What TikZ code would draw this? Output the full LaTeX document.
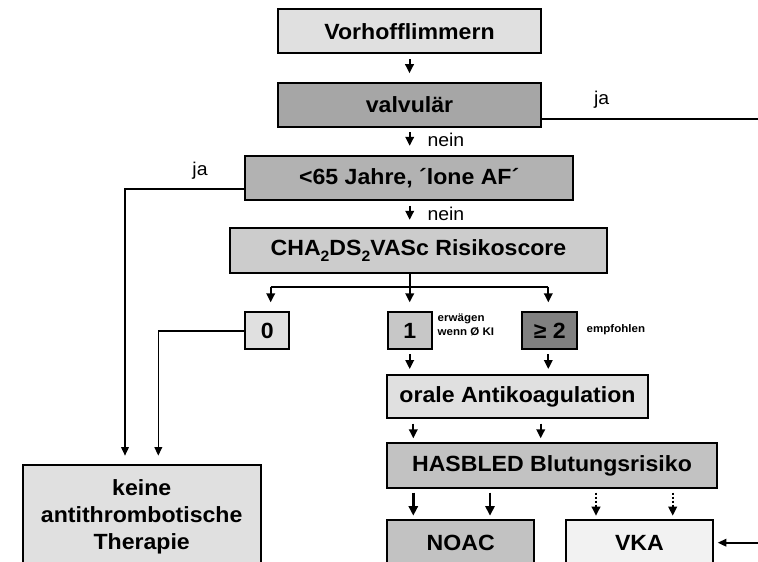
\documentclass[tikz,border=0pt]{standalone}
\usepackage{fontspec}
\setmainfont{Liberation Sans}[FakeStretch=1.05]
\usetikzlibrary{arrows.meta,calc}
\definecolor{gA}{gray}{0.88}
\definecolor{gB}{gray}{0.65}
\definecolor{gC}{gray}{0.70}
\definecolor{gD}{gray}{0.80}
\definecolor{gE}{gray}{0.78}
\definecolor{gF}{gray}{0.50}
\definecolor{gG}{gray}{0.76}
\definecolor{gH}{gray}{0.95}
\tikzset{
  box/.style={draw=black, line width=2pt, inner sep=0pt, align=center,
    font=\bfseries\fontsize{22}{26.7}\selectfont},
  lbl/.style={inner sep=0pt, font=\fontsize{18.5}{20}\selectfont},
  smalllbl/.style={inner sep=0pt, anchor=west, align=left,
    font=\bfseries\fontsize{11}{13.4}\selectfont},
  arr/.style={line width=2pt, -{Triangle[length=9pt,width=8.5pt]}},
  thickarr/.style={line width=2.6pt, -{Triangle[length=9.5pt,width=9pt]}},
  dotarr/.style={line width=2pt, dotted, -{Triangle[length=9pt,width=8.5pt]}},
  conn/.style={line width=1.6pt},
  longarr/.style={line width=1.6pt, -{Triangle[length=8.5pt,width=7.5pt]}},
}
\begin{document}
\begin{tikzpicture}[x=1pt,y=-1pt]
\useasboundingbox (0,0) rectangle (758,562);
\clip (0,0) rectangle (758,562);

% boxes
\node[box, fill=gA, minimum width=263pt, minimum height=44pt] (vf) at (409.5,31.3) {Vorhofflimmern};
\node[box, fill=gB, minimum width=263pt, minimum height=44pt] (val) at (409.5,104.7) {valvulär};
\node[box, fill=gC, minimum width=328pt, minimum height=44pt] (lone) at (409.2,177.8) {<65 Jahre, ´lone AF´};
\node[box, fill=gD, minimum width=377pt, minimum height=44.4pt] (cha) at (418.5,250.5)
  {CHA\raisebox{-0.28em}{\fontsize{15}{15}\selectfont 2}DS\raisebox{-0.28em}{\fontsize{15}{15}\selectfont 2}VASc Risikoscore};
\node[box, fill=gA, minimum width=44pt, minimum height=37pt] (s0) at (267.2,330.8) {0};
\node[box, fill=gE, minimum width=44pt, minimum height=37pt] (s1) at (409.7,330.8) {1};
\node[box, fill=gF, minimum width=55pt, minimum height=37pt] (s2) at (549.8,330.8) {≥ 2};
\node[box, fill=gA, minimum width=261.6pt, minimum height=43pt] (oak) at (517.5,396.5) {orale Antikoagulation};
\node[box, fill=gG, minimum width=329.4pt, minimum height=45pt] (has) at (552,465.8) {HASBLED Blutungsrisiko};
\node[box, fill=gG, minimum width=146.7pt, minimum height=45.4pt] (noac) at (460.7,542.7) {NOAC};
\node[box, fill=gH, minimum width=146.7pt, minimum height=45.4pt] (vka) at (639.4,542.7) {VKA};
\node[box, fill=gA, minimum width=238pt, minimum height=103.4pt] (keine) at (141.7,516.7) {keine\\antithrombotische\\Therapie};

% labels
\node[lbl] (ja1) at (601.7,100) {ja};
\node[lbl] (ja2) at (200,170.7) {ja};
\node[lbl, anchor=west] (nein1) at (427.3,139.5) {nein};
\node[lbl, anchor=west] (nein2) at (427.3,213.5) {nein};
\node[smalllbl] (erw) at (437.5,325) {erwägen\\wenn Ø KI};
\node[smalllbl] (emp) at (586.5,330) {empfohlen};

% coordinates
\coordinate (jaR) at (758,119);
\coordinate (c1) at (125,189);
\coordinate (c2) at (158.3,330.8);
\coordinate (bl) at (270.7,286.7);
\coordinate (br) at (548.3,286.7);
\coordinate (o1) at (413.3,0);
\coordinate (o2) at (540.7,0);
\coordinate (h1) at (413.3,0);
\coordinate (h2) at (490,0);
\coordinate (h3) at (596,0);
\coordinate (h4) at (672.7,0);
\coordinate (vR) at (758,542.7);

% main chain
\draw[arr, shorten <=5pt, shorten >=8.5pt] (vf.south) -- (val.north);
\draw[arr, shorten <=4.5pt, shorten >=9pt] (val.south -| s1) -- (lone.north -| s1);
\draw[arr, shorten <=5pt, shorten >=7.5pt] (lone.south -| s1) -- (cha.north -| s1);

% ja branches
\draw[conn] (val.east |- jaR) -- (jaR);
\draw[longarr, shorten >=8.3pt] (lone.west |- c1) -- (c1) -- (c1 |- keine.north);

% score branches
\draw[arr, shorten >=9pt] (cha.south -| s1) -- (s1.north);
\draw[line width=2pt] (bl) -- (br);
\draw[arr, shorten >=9pt] (bl) -- (bl |- s0.north);
\draw[arr, shorten >=9pt] (br) -- (br |- s2.north);
\draw[longarr, shorten >=8.3pt] (s0.west) -- (c2) -- (c2 |- keine.north);

% to orale Antikoagulation
\draw[arr, shorten <=4pt, shorten >=5pt] (s1.south) -- (s1.south |- oak.north);
\draw[arr, shorten <=4pt, shorten >=5pt] (s2.south -| br) -- (oak.north -| br);

% to HASBLED
\draw[arr, shorten <=4.5pt, shorten >=4pt] (oak.south -| o1) -- (has.north -| o1);
\draw[arr, shorten <=4.5pt, shorten >=4pt] (oak.south -| o2) -- (has.north -| o2);

% to NOAC / VKA
\draw[thickarr, shorten <=3.4pt, shorten >=3.3pt] (has.south -| h1) -- (noac.north -| h1);
\draw[thickarr, shorten <=3.4pt, shorten >=3.3pt] (has.south -| h2) -- (noac.north -| h2);
\draw[dotarr, shorten <=3.4pt, shorten >=3.3pt] (has.south -| h3) -- (vka.north -| h3);
\draw[dotarr, shorten <=3.4pt, shorten >=3.3pt] (has.south -| h4) -- (vka.north -| h4);
\draw[longarr, shorten >=4pt] (vR) -- (vka.east);
\end{tikzpicture}
\end{document}
